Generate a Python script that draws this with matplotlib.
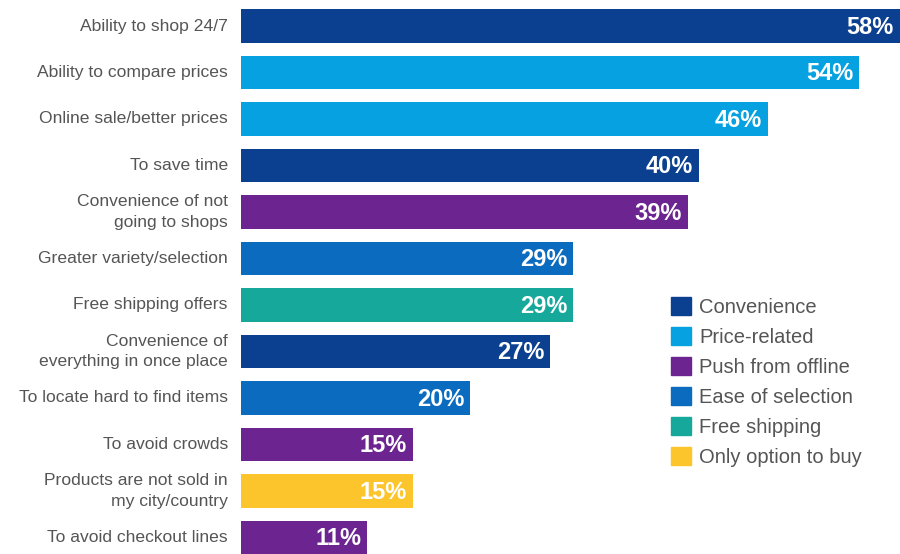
import matplotlib
matplotlib.use("Agg")
import matplotlib.pyplot as plt
from matplotlib.patches import Patch

plt.rcParams['font.family'] = ['Liberation Sans', 'DejaVu Sans']

reasons = ['Ability to shop 24/7', 'Ability to compare prices', 'Online sale/better prices',
           'To save time', 'Convenience of not\ngoing to shops', 'Greater variety/selection',
           'Free shipping offers', 'Convenience of\neverything in once place',
           'To locate hard to find items', 'To avoid crowds',
           'Products are not sold in\nmy city/country', 'To avoid checkout lines']
values = [58, 54, 46, 40, 39, 29, 29, 27, 20, 15, 15, 11]
groups = ['Convenience', 'Price-related', 'Price-related', 'Convenience', 'Push from offline',
          'Ease of selection', 'Free shipping', 'Convenience', 'Ease of selection',
          'Push from offline', 'Only option to buy', 'Push from offline']

group_names = ['Convenience', 'Price-related', 'Push from offline', 'Ease of selection',
               'Free shipping', 'Only option to buy']
group_colors = {'Convenience': '#0b3f8f', 'Price-related': '#06a1e0',
                'Push from offline': '#6b2490', 'Ease of selection': '#0b6cbf',
                'Free shipping': '#16a99b', 'Only option to buy': '#fcc52c'}

fig = plt.figure(figsize=(9, 5.54), dpi=100)
ax = fig.add_axes([241/900, 0, 659/900, 1])

ypos = list(range(len(values)))
ax.barh(ypos, values, height=0.71, color=[group_colors[g] for g in groups])

ax.set_xlim(0, 659/11.45)
ax.set_ylim(11 + 16.5/46.5, -26/46.5)
ax.axis('off')

for y, v, lab in zip(ypos, values, reasons):
    shift = 1.0 if v == max(values) else 0.5
    ax.text(v - shift, y + 0.03, f'{v}%', ha='right', va='center', color='white',
            fontsize=17, fontweight='bold')
    ax.text(-1.15, y, lab, ha='right', va='center', color='#555555',
            fontsize=12.6, linespacing=1.45)

handles = [Patch(color=group_colors[g]) for g in group_names]
fig.legend(handles, group_names, loc='upper left', bbox_to_anchor=(671/900, 1 - 297/554),
           frameon=False, fontsize=14.5, handlelength=1.0, handleheight=1.0,
           handletextpad=0.4, labelspacing=0.5, labelcolor='#555555', borderaxespad=0,
           borderpad=0)

fig.savefig('out.png', dpi=100)
